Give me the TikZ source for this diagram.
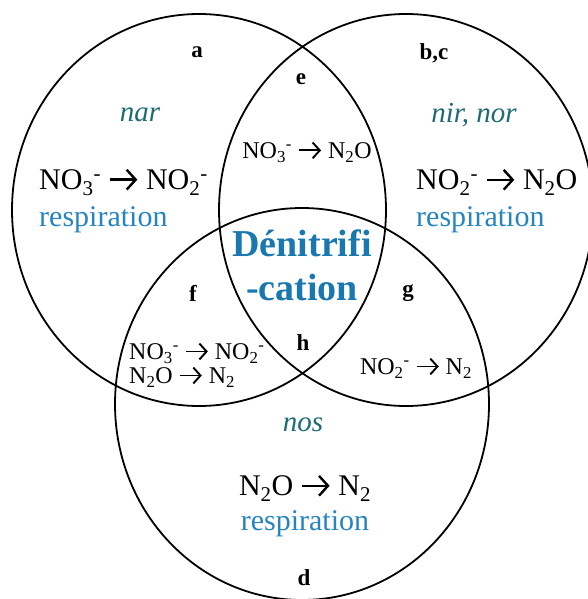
\documentclass[tikz,border=0pt]{standalone}
\usepackage{fontspec}
\setmainfont{Liberation Serif}
\usetikzlibrary{positioning,shapes.geometric,arrows.meta}
\definecolor{enz}{HTML}{1F6B73}
\definecolor{respblue}{HTML}{2585BF}
\definecolor{denit}{HTML}{1A78B0}
\newcommand{\ionsp}[3]{#1\textsubscript{#2}\textsuperscript{#3}}
\newcommand{\rarr}{\tikz[baseline=0pt]\draw[line width=0.08em,-{Straight Barb[length=0.3em,width=0.66em,line width=0.08em]}] (0em,0.34em) -- (0.92em,0.34em);}
\tikzset{vset/.style={draw,ellipse,line width=1.8pt,minimum width=374pt,minimum height=392pt,inner sep=0pt},tag/.style={font=\fontsize{23}{23}\selectfont\rmfamily\bfseries,inner sep=0pt},enzyme/.style={text=enz,font=\fontsize{29}{29}\selectfont\rmfamily\itshape,inner sep=0pt},rx/.style={font=\fontsize{30}{30}\selectfont\rmfamily,inner sep=0pt},rxs/.style={font=\fontsize{24}{24}\selectfont\rmfamily,inner sep=0pt,align=left},resp/.style={text=respblue,font=\fontsize{30}{30}\selectfont\rmfamily,inner sep=0pt}}

\begin{document}
\begin{tikzpicture}[x=1pt,y=-1pt]
\fill[white] (0,0) rectangle (587,599);
\useasboundingbox (0,0) rectangle (587,599);
\node[vset] (nar) at (199,210) {};
\node[vset] (nir) at (406,210) {};
\node[vset] (nos) at (302,404) {};
\node[tag] (a) at (197,52) {a};
\node[tag] (bc) at (434,53) {b,c};
\node[tag] (e) at (301,79) {e};
\node[tag] (f) at (193,293) {f};
\node[tag] (g) at (408,293) {g};
\node[tag] (h) at (303,343) {h};
\node[tag] (d) at (304,578) {d};
\node[enzyme] (narname) at (140,115) {nar};
\node[enzyme] (nirname) at (474,115) {nir, nor};
\node[enzyme] (nosname) at (303,425) {nos};
\node[rx,anchor=west] (rxa) at (39,182) {\ionsp{NO}{3}{-} \rarr{} \ionsp{NO}{2}{-}};
\node[resp,below right=11pt and 0pt of rxa.south west] (respa) {respiration};
\node[rx,anchor=west] (rxbc) at (416,182) {\ionsp{NO}{2}{-} \rarr{} N\textsubscript{2}O};
\node[resp,below right=11pt and 0pt of rxbc.south west] (respbc) {respiration};
\node[rx] (rxd) at (305,488) {N\textsubscript{2}O \rarr{} N\textsubscript{2}};
\node[resp,below=9pt of rxd] (respd) {respiration};
\node[rxs] (rxe) at (307,152) {\ionsp{NO}{3}{-} \rarr{} N\textsubscript{2}O};
\node[rxs,anchor=west] (rxf) at (129,365) {\ionsp{NO}{3}{-} \rarr{} \ionsp{NO}{2}{-}\\N\textsubscript{2}O \rarr{} N\textsubscript{2}};
\node[rxs] (rxg) at (416,368) {\ionsp{NO}{2}{-} \rarr{} N\textsubscript{2}};
\node[text=denit,font=\fontsize{38}{44}\selectfont\rmfamily\bfseries,align=center,inner sep=0pt] (title) at (302,265) {Dénitrifi\\-cation};
\end{tikzpicture}
\end{document}
